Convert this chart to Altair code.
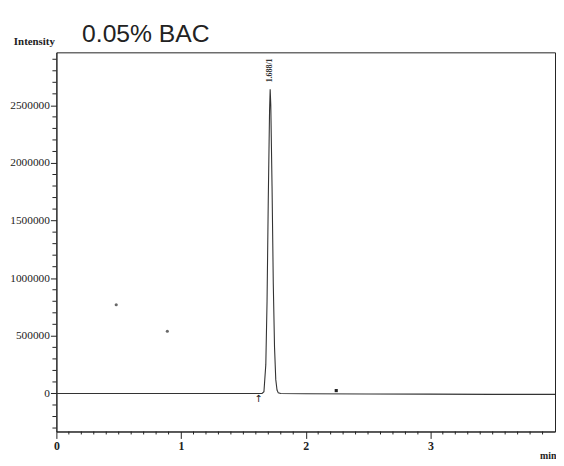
import altair as alt
import pandas as pd

# chromatogram trace (time in min, intensity)
time_min = [0.0, 0.5, 1.0, 1.5, 1.6, 1.65, 1.665, 1.68, 1.69, 1.70, 1.71, 1.715,
            1.72, 1.73, 1.74, 1.75, 1.76, 1.77, 1.78, 1.80, 2.0, 2.5, 3.0, 3.5, 4.0]
intensity = [0, 0, 0, 0, 0, 0, 15000, 250000, 800000, 1700000, 2450000, 2640000,
             2500000, 1800000, 950000, 400000, 120000, 30000, 5000, 0, -2000, -4000,
             -6000, -8000, -8000]

peak_time = [1.715]
peak_top = [2700000]
peak_label = ["1.688/1"]

arrow_time = [1.62]
arrow_val = [-50000]
dot_time = [2.245]
dot_val = [25000]

speck_time = [0.48, 0.89]
speck_val = [770000, 540000]

y_major = [0, 500000, 1000000, 1500000, 2000000, 2500000]
y_minor = [v for v in range(-300000, 2900001, 100000) if v % 500000 != 0 or v < 0]
x_major = [0, 1, 2, 3]
x_minor = [round(i * 0.1, 1) for i in range(1, 40) if i % 10 != 0]

trace = pd.DataFrame({"t": time_min, "v": intensity})
peak = pd.DataFrame({"t": peak_time, "v": peak_top, "label": peak_label})
arrow = pd.DataFrame({"t": arrow_time, "v": arrow_val})
dot = pd.DataFrame({"t": dot_time, "v": dot_val})
speck = pd.DataFrame({"t": speck_time, "v": speck_val})
ymin_df = pd.DataFrame({"v": y_minor})
xmin_df = pd.DataFrame({"t": x_minor})

W, H = 505, 384
xs = alt.Scale(domain=[0, 4], nice=False, zero=False)
ys = alt.Scale(domain=[-330000, 2960000], nice=False, zero=False)

SERIF = "Liberation Serif"

main = alt.Chart(trace).mark_line(color="#333", strokeWidth=1.1).encode(
    x=alt.X("t:Q", scale=xs, axis=alt.Axis(
        orient="bottom", values=x_major, format="d", tickSize=7,
        labelPadding=2, labelFlush=False,
        labelFont=SERIF, labelFontSize=12, labelFontWeight="bold", labelColor="#222",
        grid=False, domainColor="#222", tickColor="#222",
        title="min", titleFont=SERIF, titleFontSize=10, titleFontWeight="bold",
        titleAnchor="end", titleAlign="right", titleX=506, titleY=27,
        titleBaseline="alphabetic", titleColor="#222")),
    y=alt.Y("v:Q", scale=ys, axis=alt.Axis(
        orient="left", values=y_major, format="d", tickSize=6,
        labelPadding=1, labelFlush=False,
        labelFont=SERIF, labelFontSize=11.5, labelColor="#222",
        grid=False, domainColor="#222", tickColor="#222",
        title="Intensity", titleFont=SERIF, titleFontSize=11, titleFontWeight="bold",
        titleAngle=0, titleAlign="right", titleX=-2, titleY=-8,
        titleBaseline="alphabetic", titleColor="#222")),
)

y_minor_ticks = alt.Chart(ymin_df).mark_rule(color="#222", strokeWidth=1).encode(
    y=alt.Y("v:Q", scale=ys, axis=None), x=alt.value(-4), x2=alt.value(0))

x_minor_ticks = alt.Chart(xmin_df).mark_rule(color="#222", strokeWidth=1).encode(
    x=alt.X("t:Q", scale=xs, axis=None), y=alt.value(H), y2=alt.value(H + 3))

label = alt.Chart(peak).mark_text(
    angle=270, align="left", baseline="middle", fontSize=8, fontWeight="bold",
    font=SERIF, color="#333"
).encode(x=alt.X("t:Q", scale=xs, axis=None), y=alt.Y("v:Q", scale=ys, axis=None),
         text="label:N")

arrow_mark = alt.Chart(arrow).mark_text(
    text="↑", fontSize=10, font="DejaVu Sans", color="#222", baseline="middle"
).encode(x=alt.X("t:Q", scale=xs, axis=None), y=alt.Y("v:Q", scale=ys, axis=None))

dot_mark = alt.Chart(dot).mark_point(
    shape="square", filled=True, size=10, color="#222", opacity=1
).encode(x=alt.X("t:Q", scale=xs, axis=None), y=alt.Y("v:Q", scale=ys, axis=None))

speck_mark = alt.Chart(speck).mark_point(
    shape="circle", filled=True, size=10, color="#444", opacity=0.8
).encode(x=alt.X("t:Q", scale=xs, axis=None), y=alt.Y("v:Q", scale=ys, axis=None))

chart = alt.layer(main, y_minor_ticks, x_minor_ticks, label, arrow_mark, dot_mark,
                  speck_mark).resolve_axis(
    x="independent", y="independent"
).properties(
    width=W, height=H,
    autosize=alt.AutoSizeParams(type="none"),
    padding={"left": 49, "top": 42, "right": 1, "bottom": 30},
    title=alt.TitleParams("0.05% BAC", anchor="start", font="Liberation Sans",
                          fontSize=25, fontWeight="normal", color="#222",
                          dx=26, dy=26, offset=14, frame="group"),
    background="white",
).configure_view(stroke="#222", strokeWidth=1)

chart.save("out.html", embed_options={"renderer": "svg", "actions": False})
